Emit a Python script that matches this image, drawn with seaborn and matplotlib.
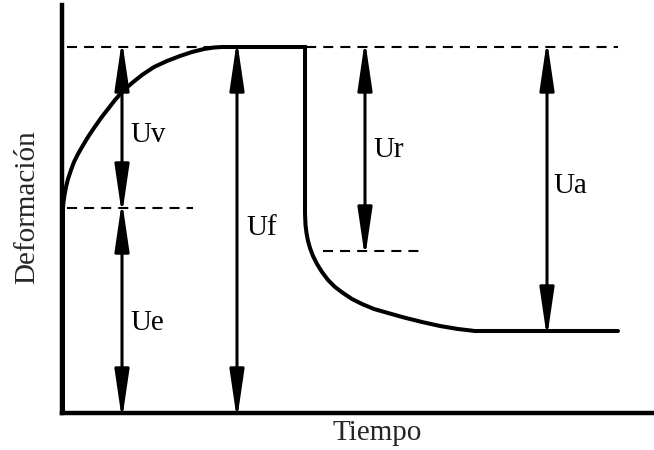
import matplotlib
matplotlib.use('Agg')
import matplotlib.pyplot as plt
import seaborn as sns
import pandas as pd

tiempo = [1, 1, 1.5, 2.5, 4, 6, 9, 12, 16, 20, 26, 32, 39, 46, 53, 61, 70, 80, 92,
          105, 118, 130, 142, 152, 160, 166, 243,
          243, 243.5, 244.5, 246, 248, 251, 255, 260, 266, 273, 281, 290, 300, 312,
          326, 342, 360, 378, 396, 413, 556]
deformacion = [0, 205, 211, 218, 226, 234, 243, 251, 259, 266, 276, 285, 295, 304, 313,
               322, 330, 338, 346, 352, 357, 361, 364, 365.5, 366, 366, 366,
               200, 188, 180, 172, 165, 157, 149, 141, 133, 126, 120, 114, 109, 104,
               100, 95.5, 91, 87, 84, 82, 82]

# líneas de referencia discontinuas
guia_y = [366, 205, 162]
guia_x0 = [5, 5, 261]
guia_x1 = [556, 131, 358]

# flechas de cotas
flecha_x = [60, 60, 175, 303, 485]
flecha_y0 = [366, 205, 366, 366, 366]
flecha_y1 = [205, 0, 0, 162, 82]
etiquetas = ['Uv', 'Ue', 'Uf', 'Ur', 'Ua']
etiqueta_x = [68, 68, 184, 311, 491]
etiqueta_y = [271, 83, 178, 256, 220]

sns.set_style('white')
plt.rcParams['font.family'] = ['Liberation Serif', 'DejaVu Serif']

fig = plt.figure(figsize=(6.54, 4.5), dpi=100)
ax = fig.add_axes([62 / 654, 37 / 450, 592 / 654, 408 / 450])

df = pd.DataFrame({'t': tiempo, 'd': deformacion})
sns.lineplot(data=df, x='t', y='d', sort=False, estimator=None, color='black',
             lw=2.9, solid_joinstyle='miter', ax=ax)

for y, x0, x1 in zip(guia_y, guia_x0, guia_x1):
    ax.plot([x0, x1], [y, y], color='black', lw=1.5, ls=(0, (4.8, 3.4)))

# la punta de la flecha queda algo corta, se compensa un poco
ext = 7
for x, y0, y1 in zip(flecha_x, flecha_y0, flecha_y1):
    ax.annotate('', xy=(x, y1 - ext), xytext=(x, y0 + ext), annotation_clip=False,
                arrowprops=dict(arrowstyle='<|-|>,head_length=1.5,head_width=0.22',
                                mutation_scale=20, shrinkA=0, shrinkB=0,
                                lw=2.2, color='black'))

for lab, x, y in zip(etiquetas, etiqueta_x, etiqueta_y):
    ax.text(x, y, lab, fontsize=21, ha='left', va='baseline', color='black')

ax.set_xlim(0, 592)
ax.set_ylim(0, 408)
ax.set_xticks([])
ax.set_yticks([])
sns.despine(ax=ax)
for s in ['left', 'bottom']:
    ax.spines[s].set_linewidth(3.2)
    ax.spines[s].set_color('black')

ax.set_xlabel('Tiempo', fontsize=21)
ax.set_ylabel('Deformación', fontsize=21)
ax.xaxis.set_label_coords(0.532, -0.017)
ax.yaxis.set_label_coords(-0.037, 0.505)

plt.savefig('out.png', dpi=100)
